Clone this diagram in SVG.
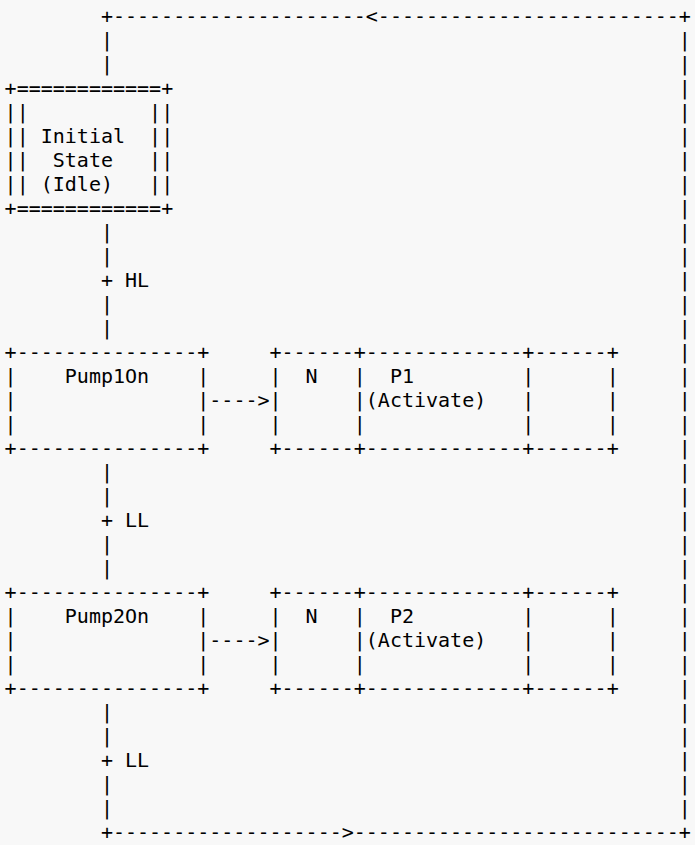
<svg xmlns="http://www.w3.org/2000/svg" width="695" height="845" viewBox="0 0 695 845">
<style>
text{font-family:"DejaVu Sans Mono","Liberation Mono",monospace;font-size:20px;fill:#000;white-space:pre}
</style>
<rect width="695" height="845" fill="#f8f8f8"/>
<g transform="translate(0,1)">
<g id="connectors">
<text xml:space="preserve" x="100.9" y="22">+---------------------&lt;-------------------------+</text>
<text xml:space="preserve" x="678.8"><tspan x="678.8" y="46">|</tspan><tspan x="678.8" y="70">|</tspan><tspan x="678.8" y="94">|</tspan><tspan x="678.8" y="118">|</tspan><tspan x="678.8" y="142">|</tspan><tspan x="678.8" y="166">|</tspan><tspan x="678.8" y="190">|</tspan><tspan x="678.8" y="214">|</tspan><tspan x="678.8" y="238">|</tspan><tspan x="678.8" y="262">|</tspan><tspan x="678.8" y="286">|</tspan><tspan x="678.8" y="310">|</tspan><tspan x="678.8" y="334">|</tspan><tspan x="678.8" y="358">|</tspan><tspan x="678.8" y="382">|</tspan><tspan x="678.8" y="406">|</tspan><tspan x="678.8" y="430">|</tspan><tspan x="678.8" y="454">|</tspan><tspan x="678.8" y="478">|</tspan><tspan x="678.8" y="502">|</tspan><tspan x="678.8" y="526">|</tspan><tspan x="678.8" y="550">|</tspan><tspan x="678.8" y="574">|</tspan><tspan x="678.8" y="598">|</tspan><tspan x="678.8" y="622">|</tspan><tspan x="678.8" y="646">|</tspan><tspan x="678.8" y="670">|</tspan><tspan x="678.8" y="694">|</tspan><tspan x="678.8" y="718">|</tspan><tspan x="678.8" y="742">|</tspan><tspan x="678.8" y="766">|</tspan><tspan x="678.8" y="790">|</tspan><tspan x="678.8" y="814">|</tspan></text>
<text xml:space="preserve"><tspan x="100.9" y="46">|</tspan><tspan x="100.9" y="70">|</tspan></text>
<text xml:space="preserve"><tspan x="100.9" y="238">|</tspan><tspan x="100.9" y="262">|</tspan><tspan x="100.9" y="286">+ HL</tspan><tspan x="100.9" y="310">|</tspan><tspan x="100.9" y="334">|</tspan></text>
<text xml:space="preserve"><tspan x="100.9" y="478">|</tspan><tspan x="100.9" y="502">|</tspan><tspan x="100.9" y="526">+ LL</tspan><tspan x="100.9" y="550">|</tspan><tspan x="100.9" y="574">|</tspan></text>
<text xml:space="preserve"><tspan x="100.9" y="718">|</tspan><tspan x="100.9" y="742">|</tspan><tspan x="100.9" y="766">+ LL</tspan><tspan x="100.9" y="790">|</tspan><tspan x="100.9" y="814">|</tspan></text>
<text xml:space="preserve" x="209.3" y="406">----&gt;</text>
<text xml:space="preserve" x="209.3" y="646">----&gt;</text>
<text xml:space="preserve" x="100.9" y="838">+-------------------&gt;---------------------------+</text>
</g>
<g id="initial-state">
<text xml:space="preserve"><tspan x="4.6" y="94">+============+</tspan><tspan x="4.6" y="118">||          ||</tspan><tspan x="4.6" y="142">|| Initial  ||</tspan><tspan x="4.6" y="166">||  State   ||</tspan><tspan x="4.6" y="190">|| (Idle)   ||</tspan><tspan x="4.6" y="214">+============+</tspan></text>
</g>
<g id="pump1on">
<text xml:space="preserve"><tspan x="4.6" y="358">+---------------+</tspan><tspan x="4.6" y="382">|    Pump1On    |</tspan><tspan x="4.6" y="406">|               |</tspan><tspan x="4.6" y="430">|               |</tspan><tspan x="4.6" y="454">+---------------+</tspan></text>
</g>
<g id="p1-activate">
<text xml:space="preserve"><tspan x="269.5" y="358">+------+-------------+------+</tspan><tspan x="269.5" y="382">|  N   |  P1         |      |</tspan><tspan x="269.5" y="406">|      |(Activate)   |      |</tspan><tspan x="269.5" y="430">|      |             |      |</tspan><tspan x="269.5" y="454">+------+-------------+------+</tspan></text>
</g>
<g id="pump2on">
<text xml:space="preserve"><tspan x="4.6" y="598">+---------------+</tspan><tspan x="4.6" y="622">|    Pump2On    |</tspan><tspan x="4.6" y="646">|               |</tspan><tspan x="4.6" y="670">|               |</tspan><tspan x="4.6" y="694">+---------------+</tspan></text>
</g>
<g id="p2-activate">
<text xml:space="preserve"><tspan x="269.5" y="598">+------+-------------+------+</tspan><tspan x="269.5" y="622">|  N   |  P2         |      |</tspan><tspan x="269.5" y="646">|      |(Activate)   |      |</tspan><tspan x="269.5" y="670">|      |             |      |</tspan><tspan x="269.5" y="694">+------+-------------+------+</tspan></text>
</g>
</g>
</svg>
